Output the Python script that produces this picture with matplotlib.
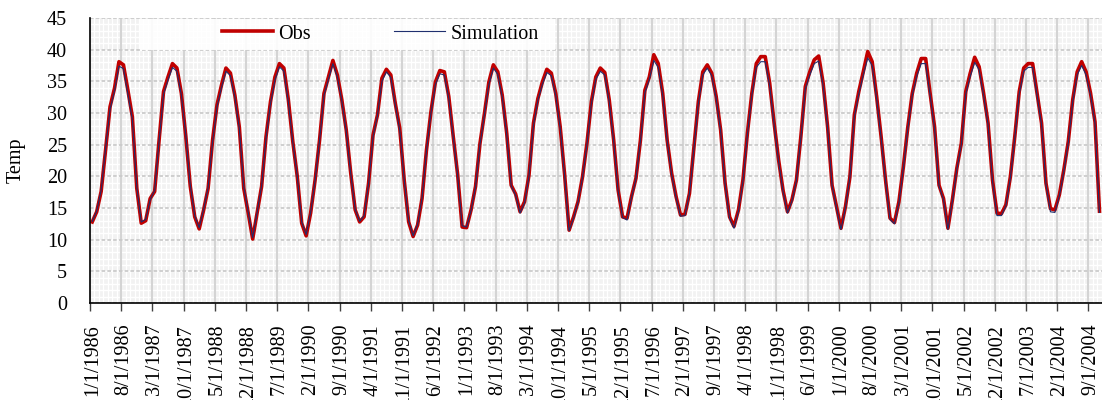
import matplotlib

matplotlib.use("Agg")
import matplotlib.pyplot as plt  # noqa: E402
import numpy as np  # noqa: E402
from matplotlib.patches import Rectangle  # noqa: E402

# monthly mean temperature, Jan 1986 .. Nov 2004 (one row per year)
obs = [
    12.8, 14.4, 17.6, 24.2, 31.0, 33.9, 38.1, 37.6, 33.6, 29.4, 18.1, 12.6,  # 1986
    13.0, 16.5, 17.6, 25.7, 33.4, 35.7, 37.8, 37.1, 33.1, 26.3, 18.4, 13.6,  # 1987
    11.7, 14.7, 18.1, 25.7, 31.3, 34.4, 37.1, 36.3, 32.8, 27.8, 18.1, 14.2,  # 1988
    10.1, 14.2, 18.4, 26.3, 31.8, 35.7, 37.8, 37.1, 32.1, 25.5, 20.0, 12.6,  # 1989
    10.6, 14.2, 19.4, 25.7, 33.1, 35.7, 38.3, 36.0, 32.1, 27.3, 20.5, 14.7,  # 1990
    12.8, 13.6, 18.9, 26.5, 29.7, 35.5, 36.9, 36.0, 31.5, 27.6, 19.4, 12.8,  # 1991
    10.5, 12.3, 16.5, 24.2, 30.2, 34.9, 36.7, 36.5, 32.6, 26.3, 20.2, 12.0,  # 1992
    11.9, 14.7, 18.4, 25.2, 29.9, 34.9, 37.6, 36.5, 32.8, 26.8, 18.6, 17.2,  # 1993
    14.4, 16.0, 20.2, 28.4, 32.3, 34.9, 36.9, 36.3, 33.1, 27.8, 20.2, 11.5,  # 1994
    13.6, 16.0, 19.9, 25.2, 31.8, 35.7, 37.1, 36.4, 32.1, 25.7, 17.8, 13.6,  # 1995
    13.4, 16.8, 19.7, 25.7, 33.6, 35.7, 39.2, 37.8, 33.1, 25.7, 20.5, 16.8,  # 1996
    13.9, 14.0, 17.3, 24.5, 31.8, 36.5, 37.6, 36.3, 32.6, 27.3, 18.9, 13.6,  # 1997
    12.1, 14.7, 19.4, 26.8, 33.1, 37.8, 38.9, 38.9, 34.7, 28.4, 22.6, 17.8,  # 1998
    14.4, 16.3, 19.4, 26.3, 34.2, 36.5, 38.4, 39.0, 34.7, 27.8, 18.6, 15.2,  # 1999
    11.8, 15.2, 19.9, 29.7, 33.4, 36.5, 39.7, 38.1, 32.6, 26.3, 19.4, 13.4,  # 2000
    12.7, 16.0, 21.5, 27.8, 33.1, 36.3, 38.6, 38.6, 33.1, 27.8, 18.6, 16.5,  # 2001
    11.8, 16.3, 21.3, 25.2, 33.4, 36.3, 38.8, 37.3, 33.1, 28.4, 19.4, 14.2,  # 2002
    14.1, 15.5, 19.9, 26.3, 33.4, 37.1, 37.8, 37.8, 33.1, 28.4, 18.9, 14.9,  # 2003
    14.7, 17.1, 21.0, 25.5, 32.1, 36.5, 38.1, 36.5, 33.1, 28.6, 14.5,        # 2004
]

sim = [
    12.9, 14.5, 17.8, 24.4, 30.6, 33.5, 37.4, 37.0, 33.0, 29.0, 18.3, 12.8,  # 1986
    13.2, 16.3, 17.8, 25.5, 33.0, 35.2, 37.2, 36.6, 32.8, 26.5, 18.6, 13.8,  # 1987
    11.9, 14.8, 18.2, 25.4, 31.0, 34.0, 36.6, 35.9, 32.5, 27.6, 18.4, 14.3,  # 1988
    10.3, 14.3, 18.5, 26.0, 31.5, 35.2, 37.3, 36.6, 31.8, 25.4, 20.1, 12.8,  # 1989
    10.8, 14.3, 19.3, 25.6, 32.8, 35.3, 37.8, 35.7, 31.9, 27.1, 20.4, 14.8,  # 1990
    12.9, 13.8, 18.8, 26.2, 29.6, 35.0, 36.5, 35.6, 31.3, 27.3, 19.5, 13.0,  # 1991
    10.6, 12.4, 16.6, 24.0, 30.0, 34.5, 36.2, 36.0, 32.3, 26.2, 20.1, 12.2,  # 1992
    12.0, 14.6, 18.3, 25.0, 29.7, 34.5, 37.1, 36.1, 32.5, 26.6, 18.5, 17.0,  # 1993
    14.2, 15.8, 20.0, 28.0, 32.0, 34.5, 36.4, 35.9, 32.8, 27.6, 20.0, 11.4,  # 1994
    13.4, 15.9, 19.8, 25.0, 31.5, 35.3, 36.6, 36.0, 31.8, 25.5, 17.7, 13.5,  # 1995
    13.1, 16.6, 19.6, 25.5, 33.2, 35.3, 38.3, 37.2, 32.8, 25.6, 20.3, 16.6,  # 1996
    13.7, 13.8, 17.2, 24.3, 31.5, 36.0, 37.1, 35.9, 32.3, 27.1, 18.8, 13.4,  # 1997
    11.8, 14.5, 19.2, 26.5, 32.8, 37.2, 38.1, 38.1, 34.3, 28.2, 22.4, 17.6,  # 1998
    14.2, 16.1, 19.3, 26.1, 33.8, 36.0, 37.8, 38.2, 34.3, 27.6, 18.5, 15.0,  # 1999
    11.6, 15.0, 19.8, 29.4, 33.0, 36.0, 38.7, 37.5, 32.3, 26.1, 19.3, 13.2,  # 2000
    12.5, 15.8, 21.3, 27.5, 32.8, 35.8, 37.8, 37.8, 32.8, 27.6, 18.5, 16.3,  # 2001
    11.6, 16.1, 21.1, 25.0, 33.0, 35.8, 38.0, 36.8, 32.8, 28.2, 19.2, 13.8,  # 2002
    13.8, 15.3, 19.7, 26.1, 33.0, 36.6, 37.2, 37.2, 32.8, 28.2, 18.7, 14.4,  # 2003
    14.3, 16.9, 20.8, 25.3, 31.8, 36.0, 37.5, 36.0, 32.8, 28.4, 14.3,        # 2004
]

# category labels shown every 7th month
date_labels = [
    "1/1/1986", "8/1/1986", "3/1/1987", "10/1/1987", "5/1/1988", "12/1/1988",
    "7/1/1989", "2/1/1990", "9/1/1990", "4/1/1991", "11/1/1991", "6/1/1992",
    "1/1/1993", "8/1/1993", "3/1/1994", "10/1/1994", "5/1/1995", "12/1/1995",
    "7/1/1996", "2/1/1997", "9/1/1997", "4/1/1998", "11/1/1998", "6/1/1999",
    "1/1/2000", "8/1/2000", "3/1/2001", "10/1/2001", "5/1/2002", "12/1/2002",
    "7/1/2003", "2/1/2004", "9/1/2004",
]
label_step = 7

plt.rcParams["font.family"] = ["Liberation Serif", "DejaVu Serif"]
FS = 14.5

n = len(obs)
x = np.arange(n) + 0.5

fig = plt.figure(figsize=(11.02, 4.0), dpi=100)
ax = fig.add_axes([90 / 1102, 97 / 400, 1011.7 / 1102, 285 / 400])
ax.set_facecolor("#f2f2f2")

# fine background texture (Excel pattern fill)
for xv in np.arange(0, n + 1, 1):
    ax.axvline(xv, color="white", lw=0.9, zorder=0.2)
for yv in np.arange(0, 45, 1):
    ax.axhline(yv, color="white", lw=1.0, zorder=0.2)

ax.plot(x, obs, color="#c00000", lw=2.6, zorder=3, label="Obs")
ax.plot(x, sim, color="#1f2f6e", lw=0.8, zorder=4, label="Simulation")

ax.set_xlim(0, n)
ax.set_ylim(0, 45)
ax.set_yticks(np.arange(0, 46, 5))

tick_pos = np.arange(len(date_labels)) * label_step
ax.set_xticks(tick_pos)
ax.set_xticklabels([])
ax.set_xticks(tick_pos + 0.5, minor=True)
ax.set_xticklabels(date_labels, minor=True, rotation=90, fontsize=FS)
ax.tick_params(axis="x", which="major", length=6, width=1, color="#404040", direction="out")
ax.tick_params(axis="x", which="minor", length=0, pad=15)
ax.tick_params(axis="y", length=0, pad=16.5, labelsize=FS)

ax.xaxis.grid(True, which="major", color="#d4d4d4", lw=1.5, zorder=0.5)
ax.yaxis.grid(True, color="#cbcbcb", lw=1.3, linestyle=(0, (2.0, 1.2)), zorder=0.5)
ax.set_axisbelow(True)

for side in ("top", "right"):
    ax.spines[side].set_visible(False)
for side in ("left", "bottom"):
    ax.spines[side].set_linewidth(1.2)
    ax.spines[side].set_zorder(5)

ax.set_ylabel("Temp", fontsize=FS)
ax.yaxis.set_label_coords(-0.064, 0.5)

# white legend band
ax.add_patch(Rectangle((0.0494, 0.888), 0.41, 0.109, transform=ax.transAxes,
                       facecolor="white", edgecolor="none", alpha=0.9, zorder=1))
ax.legend(loc="center left", bbox_to_anchor=(0.13, 0.944), ncol=2, frameon=False,
          fontsize=FS, handlelength=2.55, handletextpad=0.25, columnspacing=4.15,
          borderpad=0, borderaxespad=0)

fig.savefig("out.png", dpi=100)
plt.close(fig)
